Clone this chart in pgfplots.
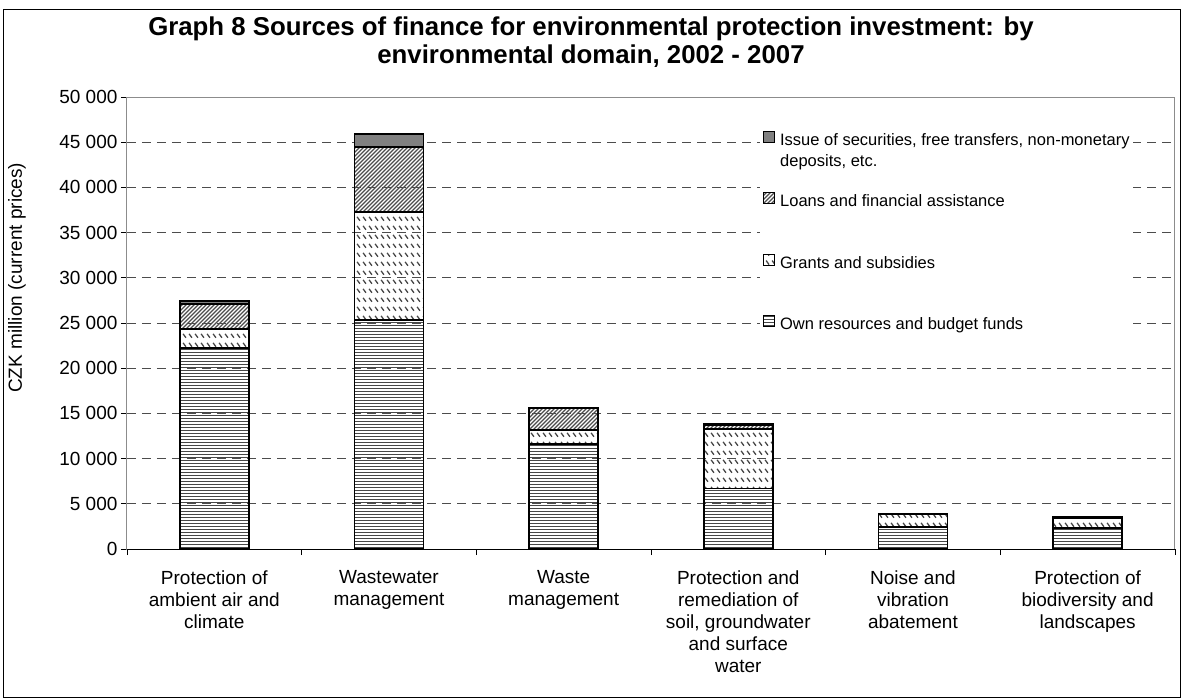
\documentclass[border=0pt]{standalone}
\usepackage{fontspec}
\setmainfont{Liberation Sans}
\usepackage{pgfplots}
\pgfplotsset{compat=1.18}
\usetikzlibrary{patterns}
\pgfdeclarepatternformonly{hdense}{\pgfqpoint{-1pt}{-1pt}}{\pgfqpoint{4pt}{4pt}}{\pgfqpoint{3pt}{3pt}}{%
  \pgfsetlinewidth{1.7pt}\pgfpathmoveto{\pgfqpoint{-1pt}{1.5pt}}\pgfpathlineto{\pgfqpoint{4pt}{1.5pt}}\pgfusepath{stroke}}
\pgfdeclarepatternformonly{nwdash}{\pgfqpoint{0pt}{0pt}}{\pgfqpoint{5.5pt}{9pt}}{\pgfqpoint{5.5pt}{9pt}}{%
  \pgfsetlinewidth{1.4pt}\pgfpathmoveto{\pgfqpoint{1.2pt}{6.8pt}}\pgfpathlineto{\pgfqpoint{4.3pt}{2.5pt}}\pgfusepath{stroke}}
\pgfdeclarepatternformonly{nedense}{\pgfqpoint{-1pt}{-1pt}}{\pgfqpoint{5pt}{5pt}}{\pgfqpoint{4pt}{4pt}}{%
  \pgfsetlinewidth{1.2pt}\pgfpathmoveto{\pgfqpoint{0pt}{0pt}}\pgfpathlineto{\pgfqpoint{4.1pt}{4.1pt}}\pgfusepath{stroke}}

\pgfplotstableread{
x own grants loans issue
0 22200 2100 2800 300
1 25300 12000 7200 1400
2 11600 1600 2400 50
3 6700 6600 450 50
4 2400 1450 50 20
5 2300 1150 80 20
}\datatable

\begin{document}
\begin{tikzpicture}[x=1pt,y=1pt]
\path[use as bounding box] (-127,-150) rectangle (1055,549);
\draw[line width=1pt] (-123,-148) rectangle (1053,539);
\begin{axis}[
  at={(0,0)}, anchor=south west,
  width=1048pt, height=452pt, scale only axis,
  ybar stacked, bar width=69pt,
  xmin=-0.5, xmax=5.5, ymin=0, ymax=50000,
  ytick={0,5000,...,50000},
  /pgf/number format/assume math mode=true,
  /pgf/number format/1000 sep={\ },
  scaled y ticks=false,
  ymajorgrids,
  grid style={dash pattern=on 9pt off 6pt, black!70, line width=0.8pt},
  axis line style={black!45, line width=1pt},
  tick align=outside, major tick length=6pt,
  ytick pos=left, xtick pos=bottom,
  tick style={black, line width=0.8pt},
  xtick={-0.5,0.5,...,5.5}, xticklabels={},
  extra x ticks={0,1,2,3,4,5},
  extra x tick labels={{Protection of\\ambient air and\\climate}, {Wastewater\\management}, {Waste\\management}, {Protection and\\remediation of\\soil, groundwater\\and surface\\water}, {Noise and\\vibration\\abatement}, {Protection of\\biodiversity and\\landscapes}},
  extra x tick style={major tick length=0pt, grid=none, xticklabel style={align=center, font=\fontsize{19}{22}\selectfont, yshift=-18pt}},
  yticklabel style={font=\fontsize{19}{22}\selectfont},
  ylabel={CZK million (current prices)},
  ylabel style={at={(axis description cs:-0.105,0.6)}, anchor=center, font=\fontsize{19}{22}\selectfont},
  reverse legend,
  legend cell align=left,
  legend style={at={(axis description cs:0.604,0.932)}, anchor=north west, draw=none, fill=white,
    font=\fontsize{16.5}{21}\selectfont, row sep=43pt, inner sep=3pt,
    nodes={inner sep=0pt, text height=12pt, text depth=4pt},
    /tikz/every odd column/.append style={column sep=5pt}},
  legend image code/.code={\draw[#1, line width=1pt] (0pt,-1pt) rectangle (11pt,10pt);},
]
\addplot[draw=black, line width=1.8pt, pattern=hdense, pattern color=black!72] table[x=x, y=own] {\datatable};
\addlegendentry{Own resources and budget funds}
\addplot[draw=black, line width=1.8pt, pattern=nwdash, pattern color=black!72] table[x=x, y=grants] {\datatable};
\addlegendentry{Grants and subsidies}
\addplot[draw=black, line width=1.8pt, pattern=nedense, pattern color=black!70] table[x=x, y=loans] {\datatable};
\addlegendentry{Loans and financial assistance}
\addplot[draw=black, line width=1.8pt, fill=black!50] table[x=x, y=issue] {\datatable};
\addlegendentry{\begin{tabular}[t]{@{}l@{}}Issue of securities, free transfers, non-monetary\\deposits, etc.\end{tabular}}
\draw[black, line width=1pt] (rel axis cs:0,0) -- (rel axis cs:1,0);
\end{axis}
\node[font=\bfseries\fontsize{25.8}{28}\selectfont, align=center] at (464,507) {Graph 8 Sources of finance for environmental protection investment: by\\environmental domain, 2002 - 2007};
\end{tikzpicture}
\end{document}
